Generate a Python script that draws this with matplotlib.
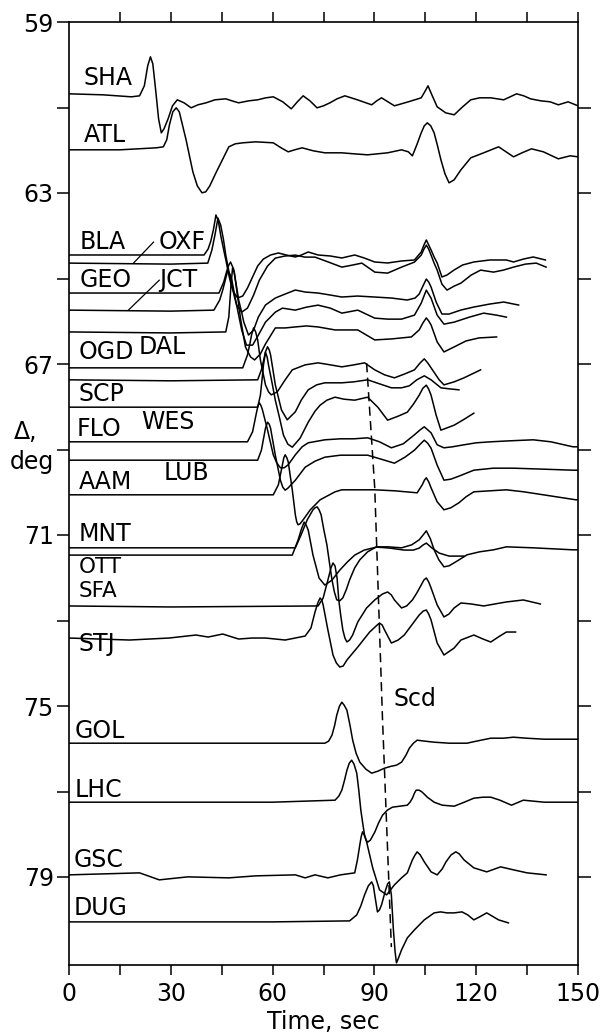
import matplotlib
matplotlib.use("Agg")
import matplotlib.pyplot as plt
import numpy as np

plt.rcParams['font.family'] = ['DejaVu Sans']

# amplitude units -> degrees of distance on the plot
AMP_SCALE = 1.0 / 42.75

# ---------------- station records: distance (deg), time (s), amplitude ----------------
SHA_dist = 60.68
SHA_t = [0, 10, 18.4, 20.8, 22.2, 23.2, 24.0, 24.7, 25.5, 26.4, 27.2, 28.0, 29.2, 30.5, 31.9, 33.9, 36.0,
         38.0, 40.4, 43.0, 46.2, 48.0, 50.0, 53.0, 55.6, 58.0, 60.2, 63.0, 65.5, 67.3, 69.0, 71.0, 73.1,
         75.0, 76.9, 79.0, 81.3, 85.0, 89.2, 90.7, 92.1, 94.0, 95.9, 100.0, 103.8, 105.0, 105.8, 106.8,
         108.5, 111.0, 113.5, 116.0, 118.4, 121.0, 124.3, 128.1, 131.9, 134.0, 136.0, 139.0, 141.8, 144.2,
         147.1, 150]
SHA_a = [0, -1, -3, -2, 8, 28, 37, 30, 5, -25, -39, -35, -25, -12, -6, -9, -14,
         -11, -9, -6, -5, -7, -9, -7, -6, -4, -3, -8, -15, -8, -2, -7, -14,
         -12, -9, -5, -2, -6, -11, -7, -4, -8, -12, -8, -4, 3, 8, 0,
         -13, -19, -21, -13, -6, -4, -4, -6, 0, -2, -5, -7, -8, -11,
         -8, -12]

ATL_dist = 61.99
ATL_t = [0, 15, 25.7, 27.8, 28.8, 29.6, 30.6, 31.6, 32.5, 33.5, 34.5, 35.5, 36.5, 37.8, 39.2, 40.3,
         41.5, 43.3, 45.5, 47.1, 49.0, 51.2, 55.0, 60.2, 62.5, 64.6, 66.5, 68.7, 72.0, 75.4, 80.4, 84.0,
         88.0, 93.9, 98.0, 100.0, 101.2, 102.5, 103.8, 104.7, 105.6, 106.6, 107.6, 108.6, 109.6, 110.8,
         112.0, 113.5, 115.5, 118.4, 122.2, 126.6, 131.0, 133.5, 136.3, 139.8, 144.2, 147.7, 150]
ATL_a = [0, 0, 2, 3, 10, 25, 38, 42, 38, 24, 10, -6, -22, -36, -43, -42,
         -36, -23, -8, 3, 6, 7, 8, 7, 2, -2, 0, 2, -1, -3, -3, -4,
         -5, -3, 0, -2, -6, 5, 17, 24, 27, 24, 17, 4, -10, -24,
         -33, -30, -20, -8, -3, 3, -7, -3, 1, -2, -9, -6, -7]

BLA_dist = 64.45
BLA_t = [0, 30, 39.8, 41.0, 41.8, 42.6, 43.3, 44.0, 44.8, 45.6, 46.4, 47.1, 47.8, 48.5, 49.7, 51.2,
         52.6, 54.1, 55.6, 57.3, 59.4, 61.7, 64.0, 66.7, 68.5, 70.5, 73.4, 77.0, 80.4, 84.2, 87.0, 90.1,
         93.9, 98.0, 101.8, 103.8, 104.6, 105.3, 106.0, 106.7, 107.6, 108.5, 109.9, 111.4, 113.5, 116.0,
         119.3, 124.0, 128.9, 131.0, 134.0, 136.8, 140.4]
BLA_a = [0, 0, 0, 6, 14, 26, 40, 34, 18, 5, -8, -20, -30, -37, -43, -41,
         -33, -22, -11, -4, 0, 2, 0, -2, 0, 3, 0, -1, -3, 0, -3, -7,
         -8, -6, -5, 3, 10, 15, 10, 5, -2, -8, -22, -20, -15, -10,
         -7, -5, -5, -7, -4, -2, -5]

OXF_dist = 64.64
OXF_t = [0, 30, 40.9, 42.1, 43.0, 43.9, 44.7, 45.5, 46.2, 47.1, 48.0, 48.7, 49.4, 50.9, 52.6, 54.4,
         56.1, 58.5, 60.8, 63.5, 66.7, 69.5, 72.5, 76.5, 80.4, 83.5, 86.3, 90.1, 93.9, 98.0, 101.8, 103.8,
         104.6, 105.3, 106.0, 106.7, 107.6, 108.5, 109.9, 111.4, 113.5, 115.5, 118.5, 121.3, 125.1, 128.0,
         131.0, 134.5, 137.7, 140.6]
OXF_a = [0, -1, 0, 13, 28, 45, 38, 24, 8, -8, -22, -33, -42, -49, -45, -32,
         -17, -3, 5, 7, 8, 6, 6, 1, -4, -2, 0, -9, -10, -4, 1, 8,
         14, 18, 14, 8, 0, -7, -21, -27, -23, -20, -12, -7, -9, -7,
         -4, -1, 0, -4]

GEO_dist = 65.34
GEO_t = [0, 30, 44.2, 45.6, 46.5, 47.1, 47.6, 48.5, 49.3, 50.0, 50.8, 51.5, 52.9, 54.4, 55.8, 57.9,
         60.8, 63.7, 66.7, 69.6, 73.4, 77.0, 80.4, 85.0, 90.1, 95.0, 99.7, 102.0, 103.2, 104.3, 105.3,
         106.0, 106.7, 107.5, 108.2, 109.9, 112.0, 115.5, 119.3, 124.0, 128.1, 132.5]
GEO_a = [0, 0, 0, 11, 22, 28, 31, 24, 8, -7, -18, -29, -42, -37, -24, -12,
         -5, -1, 3, 1, 0, -2, -4, -3, -4, -5, -7, -5, -1, 7, 14,
         11, 6, -2, -9, -21, -21, -17, -14, -11, -9, -12]

JCT_dist = 65.74
JCT_t = [0, 30, 42.7, 44.4, 45.3, 45.9, 46.8, 47.4, 48.0, 48.7, 49.4, 50.9, 52.3, 54.1, 55.8, 57.9,
         60.8, 62.9, 66.7, 70.0, 73.4, 77.0, 80.4, 85.1, 90.1, 94.0, 98.0, 101.8, 103.8, 104.6, 105.3,
         106.0, 106.7, 108.5, 110.5, 113.5, 118.0, 122.2, 126.0, 128.9]
JCT_a = [0, -1, 0, 10, 20, 28, 40, 36, 30, 17, 5, -20, -35, -35, -25, -12,
         -2, 2, 0, 3, 5, 2, -3, 0, -8, -9, -9, -5, 7, 14, 20,
         16, 12, -5, -14, -12, -7, -3, -5, -7]

DAL_dist = 66.25
DAL_t = [0, 30, 46.2, 47.1, 47.7, 48.2, 48.7, 49.1, 49.9, 50.6, 52.0, 53.5, 54.7, 56.4, 57.9, 60.8,
         63.7, 66.7, 70.0, 73.4, 78.4, 82.0, 85.1, 90.1, 95.0, 100.9, 103.2, 104.3, 105.3, 106.0, 106.7,
         108.5, 110.5, 113.5, 117.0, 120.8, 126.0]
DAL_a = [0, -1, 0, 15, 45, 64, 60, 50, 30, 12, -15, -25, -28, -22, -12, 4,
         4, 5, 6, 5, 2, 2, 2, -8, -7, -5, 2, 9, 14, 11, 7,
         -10, -20, -15, -9, -6, -5]

OGD_dist = 67.09
OGD_t = [0, 30, 51.2, 52.6, 53.3, 53.8, 54.4, 55.0, 55.6, 56.4, 57.9, 58.8, 59.6, 61.4, 63.7, 65.8,
         69.6, 73.4, 77.0, 80.4, 84.0, 87.1, 90.1, 93.0, 95.9, 99.0, 101.8, 103.5, 104.7, 105.7, 106.7,
         109.1, 110.5, 113.5, 116.4, 121.3]
OGD_a = [0, 0, 0, 13, 24, 33, 40, 36, 28, 8, -17, -24, -27, -24, -12, -2,
         3, 5, 3, 1, 3, 5, -2, -7, -10, -6, -2, 5, 9, 5, 0,
         -12, -17, -14, -10, -2]

SCP_dist = 67.37
SCP_t = [0, 30, 55.6, 56.7, 57.4, 57.9, 58.5, 59.0, 59.4, 60.8, 62.6, 64.3, 66.7, 68.5, 70.5, 73.0,
         75.4, 80.4, 84.0, 88.0, 91.5, 95.0, 98.0, 100.3, 102.5, 104.7, 106.7, 109.6, 112.0, 114.9]
SCP_a = [0, -1, 0, 10, 20, 28, 33, 30, 25, -5, -30, -40, -32, -20, -10, -5,
         -3, -3, -2, 0, -4, -8, -8, -6, 0, 4, 0, -8, -9, -10]

FLO_dist = 68.01
FLO_t = [0, 30, 55.6, 56.4, 56.9, 57.3, 57.9, 58.4, 58.8, 59.8, 60.8, 62.0, 63.2, 64.5, 65.8, 68.1,
         70.5, 72.5, 74.0, 76.0, 78.4, 81.0, 84.2, 88.0, 91.0, 93.9, 97.0, 99.7, 101.5, 103.2, 104.3,
         105.3, 106.0, 106.7, 108.2, 109.6, 113.5, 116.5, 119.3]
FLO_a = [0, 0, 0, 12, 28, 42, 55, 50, 42, 25, 7, -10, -28, -37, -40, -31,
         -15, -4, 2, 7, 10, 8, 7, 10, 0, -13, -9, -5, 3, 12, 19,
         22, 18, 12, -8, -23, -18, -12, -6]

WES_dist = 68.82
WES_t = [0, 30, 52.6, 54.1, 55.3, 55.7, 56.1, 56.6, 57.0, 58.5, 60.2, 61.2, 62.3, 63.4, 64.6, 66.7,
         68.7, 70.5, 75.4, 80.0, 84.0, 88.0, 91.5, 95.0, 98.5, 101.8, 103.5, 104.7, 105.7, 106.7, 108.5,
         110.5, 113.0, 116.4, 120.0, 124.3, 130.0, 136.8, 142.0, 148.5, 150]
WES_a = [0, 0, 0, 10, 30, 36, 39, 36, 32, 12, -13, -21, -26, -26, -23, -13,
         -5, -1, 2, 3, 3, 4, 0, -6, -2, 7, 12, 15, 12, 9, -3,
         -6, -5, -3, -1, 0, 1, 2, 0, -5, -5]

AAM_dist = 69.25
AAM_t = [0, 30, 55.6, 56.7, 57.9, 58.3, 58.5, 59.0, 59.4, 60.8, 62.3, 63.0, 63.7, 64.5, 66.7, 69.6,
         72.5, 75.4, 80.0, 84.0, 88.0, 92.0, 95.9, 99.0, 101.8, 103.5, 104.7, 105.7, 106.7, 108.5, 110.5,
         112.5, 114.9, 119.3, 125.0, 131.0, 140.0, 148.5, 150]
AAM_a = [0, 0, 0, 10, 32, 36, 38, 36, 32, 5, -20, -27, -30, -28, -20, -7,
         -1, 3, 5, 5, 5, 1, -3, 3, 10, 16, 20, 17, 12, -5, -20,
         -19, -16, -10, -8, -8, -9, -10, -10]

LUB_dist = 70.06
LUB_t = [0, 30, 60.2, 61.7, 62.9, 63.3, 63.7, 64.2, 64.6, 65.8, 66.7, 67.1, 67.5, 68.1, 69.0, 71.1,
         74.0, 78.4, 80.4, 85.0, 90.1, 96.0, 102.6, 104.1, 104.8, 105.3, 106.0, 106.7, 108.5, 110.5,
         112.5, 114.9, 117.0, 119.3, 124.0, 128.9, 134.0, 139.8, 149.4, 150]
LUB_a = [0, 0, 0, 10, 30, 37, 40, 37, 33, 5, -20, -27, -30, -29, -25, -15,
         -5, 3, 5, 5, 5, 4, 2, 10, 15, 17, 13, 7, -7, -15,
         -13, -8, -2, 3, 4, 5, 3, 0, -5, -5]

MNT_dist = 71.30
MNT_t = [0, 30, 66.7, 68.4, 70.2, 71.9, 72.5, 73.1, 73.7, 74.3, 75.1, 76.0, 76.8, 77.5, 78.2, 78.9,
         79.8, 80.7, 81.7, 82.7, 84.2, 85.7, 88.0, 90.6, 94.0, 98.0, 101.0, 103.2, 104.4, 105.3, 106.5,
         107.6, 109.0, 110.5, 112.0, 114.0, 117.3, 121.0, 125.1, 128.9, 136.8, 148.5, 150]
MNT_a = [0, 0, 0, 13, 28, 38, 40, 41, 38, 33, 18, 3, -16, -32, -44, -52,
         -53, -50, -42, -32, -20, -12, -4, 1, 1, 0, 3, 8, 13, 17, 9,
         -2, -12, -19, -18, -14, -7, -4, -2, 1, 0, -2, -2]

OTT_dist = 71.47
OTT_t = [0, 30, 65.8, 67.5, 68.5, 69.3, 69.9, 70.5, 71.9, 73.7, 75.4, 77.5, 79.8, 82.0, 84.2, 87.0,
         90.6, 94.5, 98.8, 101.5, 103.2, 104.3, 105.3, 107.0, 109.1, 112.0, 116.4]
OTT_a = [0, 0, 0, 15, 26, 33, 30, 25, 0, -23, -30, -25, -15, -7, 0, 5,
         8, 7, 5, 5, 7, 10, 12, 7, 2, -1, -1]

SFA_dist = 72.66
SFA_t = [0, 30, 73.4, 74.9, 76.3, 77.2, 77.8, 78.4, 79.0, 79.5, 80.1, 80.7, 81.3, 81.9, 82.7, 83.6,
         85.1, 87.7, 90.1, 92.4, 93.9, 95.0, 95.9, 98.0, 99.5, 101.2, 102.5, 103.8, 104.6, 105.3, 106.0,
         106.7, 108.5, 110.5, 112.0, 113.5, 115.5, 118.5, 122.2, 125.5, 128.9, 133.9, 138.9]
SFA_a = [0, -1, 0, 8, 26, 38, 43, 40, 28, 6, -10, -24, -32, -36, -34, -29,
         -16, -2, 6, 12, 14, 11, 6, -2, 0, 6, 13, 21, 26, 28, 24,
         18, 1, -11, -8, -2, 3, 2, 0, 2, 4, 6, 2]

STJ_dist = 73.41
STJ_t = [0, 17.8, 29.5, 37.4, 41.0, 45.3, 50.0, 54.0, 57.9, 63.7, 69.6, 71.3, 72.5, 73.3, 74.0, 74.5,
         74.9, 76.3, 77.8, 78.8, 79.8, 80.8, 81.9, 85.1, 88.6, 90.5, 91.5, 92.3, 93.0, 95.0, 97.0,
         98.8, 101.0, 103.2, 104.4, 105.3, 106.0, 106.7, 108.5, 110.5, 113.5, 115.5, 119.3, 122.0, 124.3,
         126.5, 128.9, 131.6]
STJ_a = [0, -2, 0, 3, 1, 4, -1, 0, 0, -2, 2, 10, 26, 35, 40, 38,
         33, 8, -17, -25, -29, -28, -22, -9, 6, 12, 15, 13, 8, -5, -2,
         3, 13, 23, 27, 28, 24, 18, -5, -17, -10, -2, 3, -1, -4,
         1, 6, 6]

GOL_dist = 75.87
GOL_t = [0, 30, 60, 75.4, 76.5, 77.5, 78.3, 78.9, 79.7, 80.4, 81.1, 81.9, 82.8, 83.6, 84.6, 85.7,
         87.5, 89.2, 91.0, 93.0, 95.0, 96.5, 98.0, 99.3, 100.3, 101.5, 102.6, 105.0, 107.6, 112.0, 117.3,
         120.0, 124.3, 128.0, 131.0, 134.8, 140.0, 148.5, 150]
GOL_a = [0, 0, 0, 0, 2, 8, 18, 28, 37, 41, 38, 33, 18, 3, -10, -19,
         -26, -30, -28, -25, -23, -22, -19, -12, -5, 0, 3, 2, 1, 0, 0,
         2, 5, 5, 6, 5, 4, 4, 4]

LHC_dist = 77.25
LHC_t = [0, 30, 60, 78.4, 79.5, 80.4, 81.2, 81.9, 82.6, 83.3, 84.0, 84.8, 85.4, 86.0, 86.6, 87.1,
         87.6, 88.0, 88.8, 90.1, 91.2, 92.4, 93.8, 95.3, 97.5, 99.7, 100.5, 101.2, 101.8, 102.3, 103.2,
         104.1, 105.6, 107.6, 110.0, 113.5, 116.5, 119.3, 122.0, 124.3, 127.0, 130.4, 133.9, 140.0, 148.5,
         150]
LHC_a = [0, 0, 0, 2, 6, 12, 22, 32, 39, 42, 38, 29, 12, -8, -22, -33,
         -38, -40, -38, -30, -21, -13, -8, -5, -4, -3, 0, 4, 9, 12, 12,
         10, 5, 0, -3, -4, 0, 4, 5, 5, 2, -3, 2, 0, 0,
         0]

GSC_dist = 78.95
GSC_t = [0, 20.8, 26.6, 35.0, 47.1, 55.0, 66.7, 69.6, 72.5, 76.3, 80.0, 84.2, 85.0, 85.7, 86.1, 86.5,
         87.0, 87.7, 89.5, 91.5, 93.6, 95.9, 98.0, 99.7, 101.2, 102.0, 102.6, 103.5, 104.7, 106.7, 108.5,
         110.0, 111.1, 112.6, 114.0, 115.0, 116.4, 119.3, 123.1, 127.2, 131.0, 135.0, 140.6]
GSC_a = [0, 2, -5, -2, -3, -1, 0, -3, 0, -3, 0, 2, 15, 30, 38, 43,
         40, 33, 7, -15, -20, -10, -3, 2, 15, 20, 23, 20, 13, 3, 0,
         6, 13, 20, 23, 21, 15, 7, 3, 8, 5, 2, 0]

DUG_dist = 80.05
DUG_t = [0, 30, 60, 82.7, 84.8, 86.0, 87.1, 88.2, 89.2, 89.7, 90.1, 90.9, 91.5, 92.1, 93.3, 93.9,
         94.4, 95.0, 95.6, 96.1, 96.5, 97.0, 98.0, 99.7, 101.8, 104.7, 107.6, 109.5, 111.4, 113.5, 115.8,
         117.5, 119.3, 121.0, 123.1, 126.6, 129.5]
DUG_a = [0, 0, 0, 1, 7, 16, 27, 36, 40, 36, 27, 10, 12, 17, 32, 38,
         40, 27, -8, -30, -41, -37, -28, -16, -8, 2, 9, 10, 9, 9, 10,
         7, 2, 5, 9, 2, -1]

# Scd travel-time branch
scd_t = [87.7, 90.1, 92.4, 95.0]
scd_dist = [66.98, 69.90, 75.33, 80.64]

records = [
    (SHA_dist, SHA_t, SHA_a), (ATL_dist, ATL_t, ATL_a),
    (BLA_dist, BLA_t, BLA_a), (OXF_dist, OXF_t, OXF_a),
    (GEO_dist, GEO_t, GEO_a), (JCT_dist, JCT_t, JCT_a),
    (DAL_dist, DAL_t, DAL_a), (OGD_dist, OGD_t, OGD_a),
    (SCP_dist, SCP_t, SCP_a), (FLO_dist, FLO_t, FLO_a),
    (WES_dist, WES_t, WES_a), (AAM_dist, AAM_t, AAM_a),
    (LUB_dist, LUB_t, LUB_a), (MNT_dist, MNT_t, MNT_a),
    (OTT_dist, OTT_t, OTT_a), (SFA_dist, SFA_t, SFA_a),
    (STJ_dist, STJ_t, STJ_a), (GOL_dist, GOL_t, GOL_a),
    (LHC_dist, LHC_t, LHC_a), (GSC_dist, GSC_t, GSC_a),
    (DUG_dist, DUG_t, DUG_a),
]

# station name labels and where they sit (time, distance)
label_names = ['SHA', 'ATL', 'BLA', 'OXF', 'GEO', 'JCT', 'OGD', 'DAL', 'SCP', 'FLO', 'WES',
               'AAM', 'LUB', 'MNT', 'OTT', 'SFA', 'STJ', 'GOL', 'LHC', 'GSC', 'DUG']
label_xy = [(4.4, 60.31), (4.4, 61.64), (3.2, 64.15), (26.3, 64.15), (3.2, 65.04), (26.6, 65.04),
            (2.9, 66.72), (20.5, 66.60), (2.9, 67.70), (2.3, 68.52), (21.3, 68.36),
            (2.9, 69.76), (27.8, 69.55), (2.9, 70.98), (2.9, 71.76), (2.9, 72.32), (2.9, 73.54),
            (1.8, 75.58), (1.6, 76.96), (1.4, 78.60), (1.3, 79.72)]
# the two stacked labels between MNT and STJ are set a bit smaller
small_labels = ('OTT', 'SFA')
# leader lines from OXF and JCT labels to their traces
leaders = [((24.9, 19.0), (64.15, 64.64)), ((26.6, 17.5), (65.04, 65.74))]

################################################################################
W, H = 602, 1033
FS = 17
fig = plt.figure(figsize=(W / 100, H / 100), dpi=100)
x0, x1 = 69, 578
ytop, ybot = 22, 965
ax = fig.add_axes([x0 / W, 1 - ybot / H, (x1 - x0) / W, (ybot - ytop) / H])

for dist, t, a in records:
    t = np.asarray(t, float)
    a = np.asarray(a, float)
    ax.plot(t, dist - a * AMP_SCALE, color='black', lw=1.1, solid_joinstyle='round')

ax.plot(scd_t, scd_dist, color='black', lw=1.1, dashes=(6, 3.5))
ax.text(95.5, 74.84, 'Scd', fontsize=FS, ha='left', va='center')

for name, (tx, dy) in zip(label_names, label_xy):
    fs = 15.5 if name in small_labels else FS
    ax.text(tx, dy, name, fontsize=fs, ha='left', va='center')
for (lt, ld) in leaders:
    ax.plot(lt, ld, color='black', lw=0.9)

ax.set_xlim(0, 150)
ax.set_ylim(59 + (ybot - ytop) / 42.75, 59)

for s in ax.spines.values():
    s.set_linewidth(1.2)

ax.set_xticks(np.arange(0, 151, 30))
ax.set_xticks(np.arange(15, 151, 30), minor=True)
ax.set_yticks([59, 63, 67, 71, 75, 79])
ax.set_yticks([61, 65, 69, 73, 77], minor=True)
ax.tick_params(which='both', direction='out', length=9, width=1.1, labelsize=FS, pad=2)
ax.tick_params(axis='x', which='both', length=7, pad=5)

sec_r = ax.secondary_yaxis('right')
sec_r.set_yticks(np.arange(61, 80, 2))
sec_r.set_yticklabels([])
sec_r.tick_params(direction='out', length=9, width=1.1)
sec_r.spines['right'].set_visible(False)

sec_t = ax.secondary_xaxis('top')
sec_t.set_xticks(np.arange(15, 151, 15))
sec_t.set_xticklabels([])
sec_t.tick_params(direction='out', length=7, width=1.1)
sec_t.spines['top'].set_visible(False)

ax.set_xlabel('Time, sec', fontsize=FS, labelpad=3)
fig.text(14 / W, 1 - 432 / H, 'Δ,', fontsize=FS, ha='left', va='center')
fig.text(10 / W, 1 - 462 / H, 'deg', fontsize=FS, ha='left', va='center')

fig.savefig('out.png', dpi=100)
